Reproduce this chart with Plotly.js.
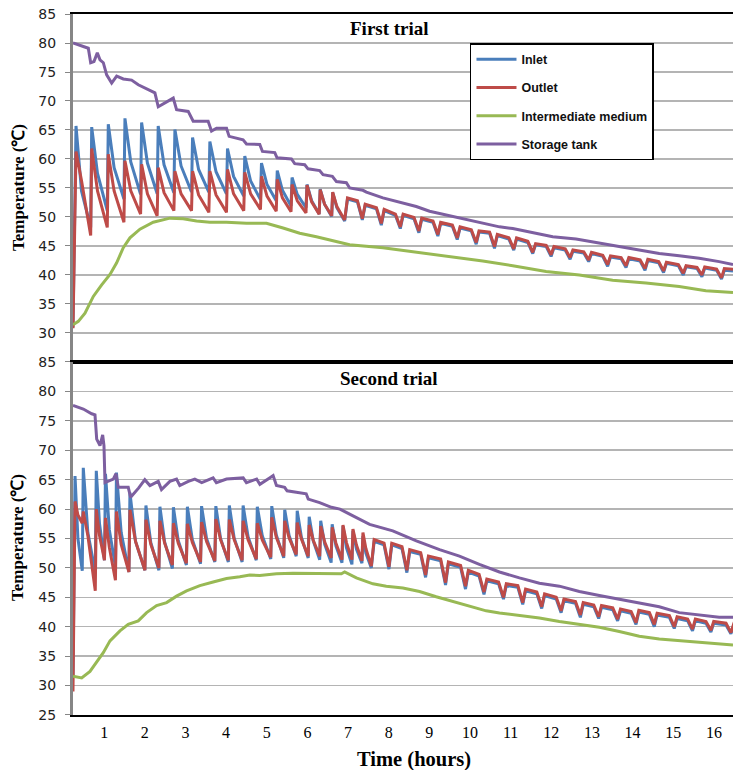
<!DOCTYPE html>
<html>
<head>
<meta charset="utf-8">
<script src="https://cdn.plot.ly/plotly-3.0.1.min.js"></script>
<style>html,body{margin:0;padding:0;background:#fff;}#chart{width:734px;height:770px;}</style>
</head>
<body>
<div id="chart"></div>
<script>
// ---------- DATA (hours, °C) ----------
const seriesNames = ["Inlet", "Outlet", "Intermediate medium", "Storage tank"];
const panelTitles = ["First trial", "Second trial"];
const xTickVals = [1,2,3,4,5,6,7,8,9,10,11,12,13,14,15,16];
const yTickVals = [30,35,40,45,50,55,60,65,70,75,80,85];
const yTickValsBottom = [25,30,35,40,45,50,55,60,65,70,75,80,85];

// First trial: charging cycles (sawtooth phase)
const topStart = {t: 0.233, inlet: 31.0, outlet: 30.8};
const topSawT = [0.307, 0.693, 1.101, 1.511, 1.921, 2.329, 2.740, 3.174, 3.600, 4.034, 4.459, 4.870, 5.258, 5.622, 5.990, 6.314, 6.622];
const topInletPeak = [65.7, 65.5, 66.0, 67.0, 66.3, 65.7, 65.1, 63.7, 63.0, 61.8, 60.5, 59.3, 58.0, 56.8, 55.6, 54.8, 54.2];
const topInletMid = [54.5, 57.5, 58.5, 59.5, 59.3, 59.0, 58.8, 58.2, 57.8, 57.0, 56.2, 55.6, 54.6, 53.9, 52.8, 52.2, 51.6];
const topInletTrough = [48.2, 51.1, 53.1, 53.9, 54.0, 54.2, 54.3, 54.3, 54.0, 53.6, 53.0, 52.8, 51.9, 51.6, 50.5, 50.1];
const topOutletPeak = [61.3, 61.8, 60.8, 59.7, 59.1, 58.5, 57.9, 57.9, 57.9, 58.2, 57.7, 57.0, 56.5, 55.6, 55.5, 54.7, 54.3];
const topOutletMid = [56.3, 54.5, 54.5, 54.5, 54.0, 54.2, 54.0, 53.8, 53.8, 54.0, 54.0, 53.6, 53.3, 52.8, 52.6, 52.2, 51.8];
const topOutletTrough = [46.8, 48.2, 49.1, 50.5, 50.2, 51.1, 51.1, 50.8, 50.8, 51.1, 51.3, 51.0, 50.9, 50.7, 50.5, 50.2];
// First trial: plateau / dip phase
const topDipT = [6.916, 7.351, 7.818, 8.285, 8.742, 9.209, 9.686, 10.152, 10.602, 11.076, 11.543, 11.995, 12.462, 12.919, 13.386, 13.838, 14.305, 14.762, 15.246, 15.705, 16.187];
const topOutletDip = [49.5, 49.7, 48.9, 48.3, 47.6, 47.0, 46.4, 45.6, 44.9, 44.5, 43.9, 43.5, 43.0, 42.6, 41.8, 41.6, 41.1, 40.7, 40.3, 40.0, 39.5];
const topOutletHigh = [53.3, 52.2, 51.3, 50.5, 49.8, 49.1, 48.3, 47.6, 47.0, 46.4, 45.4, 44.9, 44.3, 43.9, 43.3, 43.0, 42.7, 42.2, 41.6, 41.4, 41.1];
const topOutletLow = [52.8, 51.6, 50.5, 49.9, 49.3, 48.6, 47.8, 47.4, 46.4, 45.8, 45.1, 44.5, 44.0, 43.4, 43.0, 42.6, 42.3, 41.8, 41.3, 41.0, 41.0];
const topInletDip = [49.3, 49.5, 48.6, 48.0, 47.3, 46.7, 46.1, 45.3, 44.6, 44.3, 43.7, 43.2, 42.7, 42.3, 41.5, 41.3, 40.8, 40.4, 40.0, 39.7, 39.3];
const topInletHigh = [53.1, 52.0, 51.1, 50.3, 49.6, 48.9, 48.1, 47.4, 46.8, 46.2, 45.2, 44.7, 44.1, 43.7, 43.1, 42.8, 42.5, 42.0, 41.4, 41.2, 40.8];
const topInletLow = [52.6, 51.4, 50.3, 49.7, 49.1, 48.4, 47.6, 47.2, 46.2, 45.6, 44.9, 44.3, 43.8, 43.2, 42.8, 42.4, 42.1, 41.6, 41.1, 40.8, 40.7];
// First trial: intermediate medium and storage tank
const topMediumT = [0.233, 0.364, 0.528, 0.733, 0.938, 1.143, 1.307, 1.470, 1.634, 1.880, 2.207, 2.617, 2.944, 3.272, 3.600, 4.010, 4.501, 4.993, 5.401, 5.811, 6.221, 6.713, 7.039, 7.857, 8.514, 9.169, 9.823, 10.314, 11.052, 11.872, 12.690, 13.509, 14.329, 15.147, 15.803, 16.47];
const topMediumV = [31.4, 32.0, 33.4, 36.3, 38.3, 40.1, 42.1, 44.7, 46.4, 47.9, 49.1, 49.8, 49.7, 49.3, 49.1, 49.1, 48.9, 48.9, 48.1, 47.2, 46.6, 45.8, 45.2, 44.7, 44.1, 43.5, 42.8, 42.4, 41.6, 40.6, 40.0, 39.1, 38.6, 38.0, 37.3, 37.0];
const topTankT = [0.233, 0.528, 0.61, 0.668, 0.749, 0.831, 0.897, 0.979, 1.061, 1.184, 1.307, 1.470, 1.675, 1.839, 2.044, 2.248, 2.330, 2.535, 2.699, 2.781, 3.067, 3.190, 3.558, 3.641, 3.764, 4.010, 4.074, 4.418, 4.501, 4.828, 4.894, 5.197, 5.253, 5.607, 5.688, 5.934, 6.015, 6.302, 6.384, 6.614, 6.713, 6.958, 7.039, 7.366, 7.450, 7.857, 8.187, 8.678, 9.005, 9.496, 9.907, 10.314, 10.725, 11.052, 11.543, 12.035, 12.609, 13.1, 13.673, 14.165, 14.656, 15.147, 15.639, 16.13, 16.47];
const topTankV = [80.0, 79.3, 79.1, 76.6, 76.8, 78.3, 77.1, 76.6, 74.5, 73.1, 74.3, 73.8, 73.6, 72.8, 72.1, 71.4, 69.0, 69.8, 70.5, 68.5, 68.2, 66.5, 66.5, 64.8, 65.3, 65.3, 63.9, 63.3, 62.6, 62.5, 61.3, 61.1, 60.2, 60.0, 59.2, 59.0, 58.3, 58.0, 57.3, 57.0, 56.1, 55.9, 55.0, 54.6, 54.3, 53.3, 52.7, 51.8, 51.0, 50.2, 49.5, 48.9, 48.3, 48.0, 47.3, 46.6, 46.2, 45.6, 44.9, 44.3, 43.7, 43.3, 42.9, 42.3, 41.8];

// Second trial: charging cycles (sawtooth phase)
const botStart = {t: 0.233, inlet: 31.5, outlet: 29.0};
const botSawT = [0.283, 0.486, 0.806, 1.032, 1.302, 1.634, 2.027, 2.371, 2.703, 3.047, 3.396, 3.747, 4.079, 4.418, 4.767, 5.123, 5.442, 5.749, 6.044, 6.327, 6.609, 6.875, 7.12, 7.366];
const botInletPeak = [65.6, 67.0, 66.5, 66.0, 66.2, 62.8, 60.6, 60.4, 60.3, 60.4, 60.5, 60.5, 60.6, 60.6, 60.4, 60.5, 59.9, 59.7, 58.7, 58.0, 57.4, 57.1, 56.3, 55.4];
const botInletMid = [55.0, 56.0, 57.5, 56.5, 56.0, 54.5, 54.3, 54.4, 54.6, 54.8, 55.0, 55.0, 55.1, 55.3, 55.4, 55.6, 55.5, 55.2, 54.6, 54.0, 53.7, 53.4, 53.2, 52.5];
const botInletTrough = [49.5, 49.2, 51.3, 50.2, 49.3, 49.6, 49.6, 49.9, 50.5, 50.7, 51.0, 51.0, 51.0, 51.3, 51.5, 51.7, 52.0, 51.7, 51.4, 50.9, 50.9, 50.6, 50.8];
const botOutletPeak = [61.3, 59.6, 60.0, 58.5, 59.6, 59.9, 58.2, 58.0, 57.6, 57.5, 57.8, 58.3, 58.2, 58.0, 57.6, 58.6, 58.0, 57.7, 57.3, 57.1, 56.9, 57.3, 56.6, 56.0];
const botOutletMid = [59.0, 55.5, 55.5, 53.5, 54.0, 54.5, 54.0, 54.2, 54.2, 54.3, 54.5, 54.8, 54.8, 54.8, 54.7, 55.2, 55.1, 54.9, 54.7, 54.4, 54.2, 54.3, 53.9, 53.3];
const botOutletTrough = [57.6, 46.1, 51.3, 47.9, 49.3, 49.6, 50.0, 50.5, 50.8, 51.0, 51.2, 51.3, 51.3, 51.5, 51.8, 52.0, 52.3, 52.0, 52.0, 51.7, 51.4, 51.4, 51.2];
// Second trial: plateau / dip phase
const botDipT = [7.572, 8.005, 8.447, 8.907, 9.398, 9.889, 10.344, 10.823, 11.297, 11.764, 12.241, 12.715, 13.165, 13.632, 14.084, 14.533, 15.025, 15.474, 15.926, 16.418];
const botOutletDip = [50.3, 50.2, 49.6, 48.8, 47.5, 46.9, 45.9, 45.0, 44.1, 43.4, 42.7, 42.0, 41.7, 41.3, 40.7, 40.4, 40.0, 39.6, 39.4, 39.0];
const botOutletHigh = [54.8, 54.2, 53.1, 52.0, 51.0, 49.6, 48.1, 47.3, 46.4, 45.6, 44.7, 44.1, 43.6, 43.0, 42.8, 42.3, 41.7, 41.3, 40.9, 40.5];
const botOutletLow = [54.2, 53.6, 52.6, 51.5, 50.4, 48.9, 47.6, 47.0, 45.9, 45.0, 44.3, 43.7, 43.2, 42.6, 42.4, 41.9, 41.3, 40.9, 40.6, 40.4];
const botInletDip = [50.0, 49.8, 49.2, 48.4, 47.1, 46.4, 45.5, 44.7, 43.8, 43.1, 42.4, 41.6, 41.4, 41.0, 40.4, 40.0, 39.7, 39.3, 39.1, 38.8];
const botInletHigh = [54.5, 53.9, 52.8, 51.7, 50.7, 49.3, 47.8, 47.0, 46.1, 45.3, 44.4, 43.8, 43.3, 42.7, 42.5, 42.0, 41.4, 41.0, 40.6, 40.2];
const botInletLow = [53.9, 53.3, 52.3, 51.2, 50.1, 48.6, 47.3, 46.7, 45.6, 44.7, 44.0, 43.4, 42.9, 42.3, 42.1, 41.6, 41.0, 40.6, 40.3, 40.1];
// Second trial: intermediate medium and storage tank
const botMediumT = [0.233, 0.447, 0.651, 0.816, 0.978, 1.143, 1.388, 1.592, 1.838, 2.044, 2.290, 2.536, 2.781, 3.027, 3.354, 3.681, 4.010, 4.337, 4.582, 4.828, 5.238, 5.646, 6.057, 6.467, 6.835, 6.916, 7.204, 7.612, 7.941, 8.349, 8.759, 9.169, 9.578, 9.988, 10.398, 10.725, 11.216, 11.708, 12.199, 12.69, 13.182, 13.673, 14.165, 14.656, 15.147, 15.639, 16.13, 16.47];
const botMediumV = [31.6, 31.3, 32.4, 34.1, 35.6, 37.6, 39.3, 40.4, 41.0, 42.4, 43.6, 44.1, 45.2, 46.1, 47.0, 47.6, 48.2, 48.5, 48.8, 48.7, 49.0, 49.1, 49.1, 49.0, 49.0, 49.3, 48.3, 47.3, 46.9, 46.6, 46.0, 45.1, 44.3, 43.4, 42.7, 42.35, 41.9, 41.5, 40.9, 40.4, 39.9, 39.2, 38.4, 37.9, 37.6, 37.3, 37.0, 36.9];
const botTankT = [0.233, 0.487, 0.693, 0.774, 0.816, 0.897, 0.963, 0.995, 1.020, 1.224, 1.290, 1.347, 1.592, 1.651, 1.85, 2.0, 2.125, 2.33, 2.41, 2.617, 2.78, 2.86, 3.07, 3.23, 3.40, 3.68, 3.76, 4.01, 4.42, 4.50, 4.75, 4.83, 5.07, 5.156, 5.238, 5.44, 5.50, 5.97, 6.02, 6.30, 6.59, 6.80, 7.11, 7.53, 8.10, 8.68, 9.25, 9.74, 10.23, 10.725, 11.216, 11.708, 12.199, 12.690, 13.182, 13.673, 14.165, 14.656, 15.147, 15.639, 16.13, 16.47];
const botTankV = [77.6, 77.0, 76.2, 76.0, 71.9, 70.8, 72.6, 70.8, 64.5, 65.1, 66.0, 63.7, 63.7, 62.0, 63.6, 65.0, 64.0, 64.7, 63.3, 64.7, 65.1, 64.0, 64.7, 65.1, 64.5, 65.3, 64.5, 65.1, 65.3, 64.5, 65.1, 64.2, 65.3, 65.7, 64.0, 63.7, 63.1, 62.6, 61.7, 61.1, 60.3, 60.0, 58.9, 57.4, 56.3, 54.6, 53.1, 52.0, 50.6, 49.3, 48.3, 47.4, 46.9, 46.0, 45.3, 44.7, 44.0, 43.4, 42.4, 42.0, 41.6, 41.6];

// ---------- build line paths from the read cycle values ----------
const X_MIN = 0.233, X_MAX = 16.47;
function cyclePath(start, sawT, peak, mid, trough, dipT, dip, high, low) {
  const x = [start.t], y = [start.v];
  for (let i = 0; i < sawT.length; i++) {
    const next = i < sawT.length - 1 ? sawT[i + 1] : dipT[0];
    x.push(sawT[i]); y.push(peak[i]);
    x.push(sawT[i] + 0.35 * (next - sawT[i])); y.push(mid[i]);
    if (i < sawT.length - 1) { x.push(next - 0.025); y.push(trough[i]); }
  }
  for (let j = 0; j < dipT.length; j++) {
    x.push(dipT[j]); y.push(dip[j]);
    x.push(dipT[j] + 0.07); y.push(high[j]);
    const next = j < dipT.length - 1 ? dipT[j + 1] - 0.12 : Math.max(X_MAX, dipT[j] + 0.1);
    x.push(next); y.push(low[j]);
  }
  return {x, y};
}

const colors = ["#4a7ebb", "#be4b48", "#98b954", "#7d5fa0"];
const topIn = cyclePath({t: topStart.t, v: topStart.inlet}, topSawT, topInletPeak, topInletMid, topInletTrough, topDipT, topInletDip, topInletHigh, topInletLow);
const topOut = cyclePath({t: topStart.t, v: topStart.outlet}, topSawT, topOutletPeak, topOutletMid, topOutletTrough, topDipT, topOutletDip, topOutletHigh, topOutletLow);
const botIn = cyclePath({t: botStart.t, v: botStart.inlet}, botSawT, botInletPeak, botInletMid, botInletTrough, botDipT, botInletDip, botInletHigh, botInletLow);
const botOut = cyclePath({t: botStart.t, v: botStart.outlet}, botSawT, botOutletPeak, botOutletMid, botOutletTrough, botDipT, botOutletDip, botOutletHigh, botOutletLow);

function tr(d, i, xa, ya, show) {
  return {type: 'scatter', mode: 'lines', x: d.x, y: d.y, xaxis: xa, yaxis: ya,
    name: seriesNames[i], legendgroup: 'g' + i, showlegend: show,
    line: {color: colors[i], width: 3}, hoverinfo: 'skip'};
}
const data = [
  tr(topIn, 0, 'x', 'y', true),
  tr(topOut, 1, 'x', 'y', true),
  tr({x: topMediumT, y: topMediumV}, 2, 'x', 'y', true),
  tr({x: topTankT, y: topTankV}, 3, 'x', 'y', true),
  tr(botIn, 0, 'x2', 'y2', false),
  tr(botOut, 1, 'x2', 'y2', false),
  tr({x: botMediumT, y: botMediumV}, 2, 'x2', 'y2', false),
  tr({x: botTankT, y: botTankV}, 3, 'x2', 'y2', false)
];

const serif = 'Liberation Serif, Times New Roman, serif';
const sans = 'DejaVu Sans, Verdana, sans-serif';
const split = 0.5036;
const yBase = {
  showgrid: true, gridcolor: '#b4b4b4', gridwidth: 1.5, zeroline: false,
  showline: true, linecolor: '#868686', linewidth: 3,
  ticks: 'outside', ticklen: 5, tickcolor: '#868686', tickwidth: 1,
  ticklabelstandoff: 6,
  tickfont: {family: sans, size: 14, color: '#222'}, range: [25, 85], fixedrange: true
};
const xBase = {
  range: [X_MIN, X_MAX], showgrid: false, zeroline: false,
  showline: true, mirror: true, linecolor: '#000', linewidth: 2, ticks: '',
  tickvals: xTickVals, fixedrange: true
};
const layout = {
  width: 734, height: 770,
  margin: {l: 73, r: 1, t: 14, b: 55},
  paper_bgcolor: '#fff', plot_bgcolor: '#fff',
  showlegend: true,
  legend: {x: 0.6015, y: 0.9586, xanchor: 'left', yanchor: 'top', bgcolor: '#fff',
    bordercolor: '#000', borderwidth: 1.5, tracegroupgap: 9, itemwidth: 40,
    font: {family: 'Liberation Sans, Arial, sans-serif', size: 12.5, color: '#111', weight: 'bold'}},
  xaxis: Object.assign({}, xBase, {anchor: 'y', showticklabels: false}),
  xaxis2: Object.assign({}, xBase, {anchor: 'y2', matches: 'x', showticklabels: true,
    ticklabelstandoff: 2, tickfont: {family: serif, size: 16, color: '#000'}}),
  yaxis: Object.assign({}, yBase, {domain: [split, 1], tickvals: yTickVals}),
  yaxis2: Object.assign({}, yBase, {domain: [0, split], tickvals: yTickValsBottom}),
  annotations: [
    {text: '<b>' + panelTitles[0] + '</b>', xref: 'paper', yref: 'paper', x: 0.479, y: 0.980, showarrow: false,
      xanchor: 'center', yanchor: 'middle', font: {family: serif, size: 19, color: '#000'}},
    {text: '<b>' + panelTitles[1] + '</b>', xref: 'paper', yref: 'paper', x: 0.479, y: 0.4807, showarrow: false,
      xanchor: 'center', yanchor: 'middle', font: {family: serif, size: 19, color: '#000'}},
    {text: '<b>Temperature (℃)</b>', xref: 'paper', yref: 'paper', x: 0, xshift: -54, y: 0.7518, textangle: -90,
      showarrow: false, xanchor: 'center', yanchor: 'middle', font: {family: serif, size: 17, color: '#000'}},
    {text: '<b>Temperature (℃)</b>', xref: 'paper', yref: 'paper', x: 0, xshift: -55, y: 0.2525, textangle: -90,
      showarrow: false, xanchor: 'center', yanchor: 'middle', font: {family: serif, size: 17, color: '#000'}},
    {text: '<b>Time (hours)</b>', xref: 'paper', yref: 'paper', x: 0.5167, y: -0.0628, showarrow: false,
      xanchor: 'center', yanchor: 'middle', font: {family: serif, size: 20.5, color: '#000'}}
  ]
};
Plotly.newPlot('chart', data, layout, {displayModeBar: false, staticPlot: true});
</script>
</body>
</html>
